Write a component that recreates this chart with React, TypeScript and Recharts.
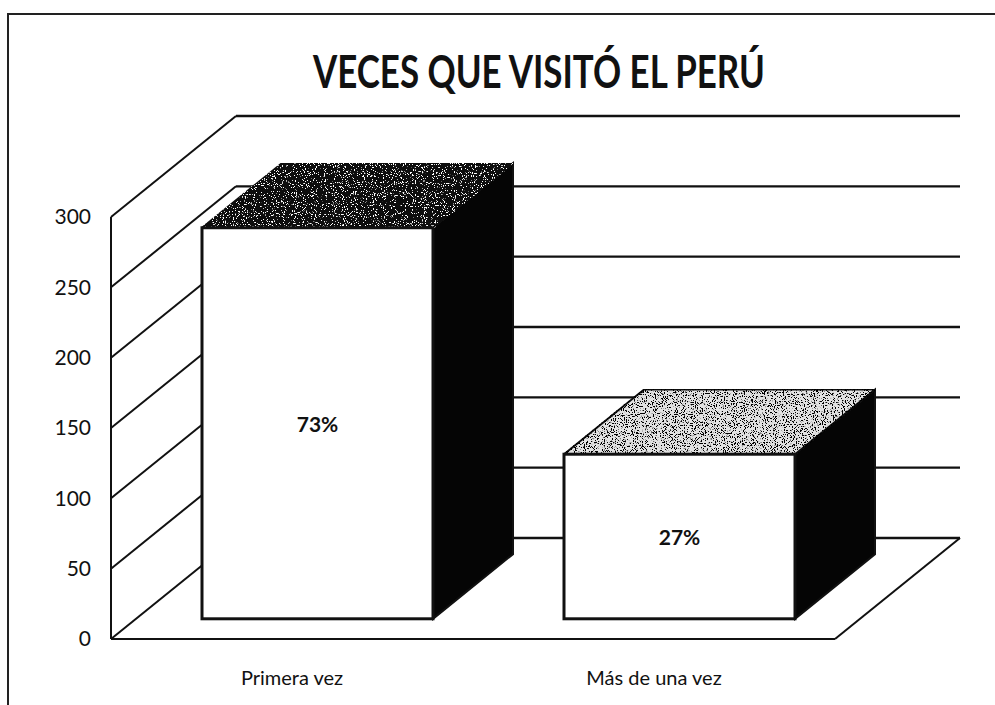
import { BarChart, Bar, XAxis, YAxis, CartesianGrid } from "recharts"

// data
const categories = ["Primera vez", "Más de una vez"]
const visitas = [278, 117]
const porcentajes = ["73%", "27%"]
const yTicks = [0, 50, 100, 150, 200, 250, 300]

const data = categories.map((name, i) => ({
  name,
  visitas: visitas[i],
  pct: porcentajes[i],
}))

// fake 3D: how far the back wall sits from the front plane
const DX = 125
const DY = -101
const FRONT = 0.2 // bar front face depth (fraction of the floor)
const BACK = 0.84 // bar back face depth

const W = 995
const H = 705
const MARGIN = { top: 217, right: 160, bottom: 26, left: 51 }
const X_AXIS_H = 40
const PLOT_BOTTOM = H - MARGIN.bottom - X_AXIS_H

const font = "Lato, 'Open Sans', sans-serif"
const ink = "#111"

// each horizontal grid line becomes: side wall diagonal + back wall line
const wallLine = (props: any) => {
  const { x1, y1, x2, index } = props
  const bx = x1 + DX
  const by = y1 + DY
  const isFloor = Math.abs(y1 - PLOT_BOTTOM) < 1
  return (
    <g key={`wall-${index}`}>
      <line x1={x1} y1={y1} x2={bx} y2={by} stroke={ink} strokeWidth={2} />
      <line x1={bx} y1={by} x2={x2 + DX} y2={by} stroke={ink} strokeWidth={2.4} />
      {isFloor && (
        <line x1={x2} y1={y1} x2={x2 + DX} y2={by} stroke={ink} strokeWidth={2} />
      )}
    </g>
  )
}

const topLook = [
  { base: "#101010", dot: 1, thr: 0.62 }, // dark top, white grain
  { base: "#e2e2e2", dot: 0, thr: 0.55 }, // light top, black grain
]

const renderBox = (props: any) => {
  const { x, y, width, height, index, payload } = props
  if (height <= 0) return <g />
  const fx = x + DX * FRONT
  const fy = y + DY * FRONT
  const bx = DX * (BACK - FRONT)
  const by = DY * (BACK - FRONT)
  const look = topLook[index % topLook.length]
  const k = 18
  const pts = (a: number[][]) => a.map((p) => p.join(",")).join(" ")
  const top = [
    [fx, fy],
    [fx + width, fy],
    [fx + width + bx, fy + by],
    [fx + bx, fy + by],
  ]
  const side = [
    [fx + width, fy],
    [fx + width + bx, fy + by],
    [fx + width + bx, fy + height + by],
    [fx + width, fy + height],
  ]
  const fid = `grain-${index}`
  return (
    <g>
      <defs>
        <filter id={fid} x="0" y="0" width="100%" height="100%">
          <feTurbulence type="fractalNoise" baseFrequency="0.9" numOctaves={2} seed={index + 3} result="noise" />
          <feColorMatrix
            in="noise"
            type="matrix"
            values={`0 0 0 0 ${look.dot} 0 0 0 0 ${look.dot} 0 0 0 0 ${look.dot} ${k} 0 0 0 ${-k * look.thr}`}
            result="dots"
          />
          <feComposite in="dots" in2="SourceAlpha" operator="in" result="clipped" />
          <feMerge>
            <feMergeNode in="SourceGraphic" />
            <feMergeNode in="clipped" />
          </feMerge>
        </filter>
      </defs>
      <polygon points={pts(side)} fill="#050505" stroke={ink} strokeWidth={2} />
      <polygon points={pts(top)} fill={look.base} stroke={ink} strokeWidth={2} filter={`url(#${fid})`} />
      <rect x={fx} y={fy} width={width} height={height} fill="#fff" stroke={ink} strokeWidth={3} />
      <text
        x={fx + width / 2}
        y={fy + height / 2}
        textAnchor="middle"
        dominantBaseline="central"
        fontFamily={font}
        fontWeight={700}
        fontSize={21}
        fill={ink}
      >
        {payload.pct}
      </text>
    </g>
  )
}

export default function App() {
  return (
    <div style={{ position: "absolute", left: 0, top: 0, width: W, height: H, background: "#fff" }}>
      <BarChart width={W} height={H} data={data} margin={MARGIN}>
        <CartesianGrid vertical={false} horizontal={wallLine} />
        <XAxis
          dataKey="name"
          height={X_AXIS_H}
          tickLine={false}
          axisLine={{ stroke: ink, strokeWidth: 2 }}
          tickMargin={26}
          tick={{ fill: ink, fontSize: 20, fontFamily: font }}
        />
        <YAxis
          width={60}
          domain={[0, 300]}
          ticks={yTicks}
          interval={0}
          tickLine={false}
          axisLine={{ stroke: ink, strokeWidth: 2 }}
          tickMargin={14}
          tick={{ fill: ink, fontSize: 21, fontFamily: font }}
        />
        <Bar dataKey="visitas" barSize={231} isAnimationActive={false} shape={renderBox} />
      </BarChart>

      {/* frame + title */}
      <svg
        width={W}
        height={H}
        style={{ position: "absolute", left: 0, top: 0, pointerEvents: "none" }}
      >
        <line x1={7} y1={14} x2={W} y2={14} stroke="#222" strokeWidth={2} />
        <line x1={8} y1={13} x2={8} y2={H} stroke="#222" strokeWidth={2} />
        <text
          x={539}
          y={88}
          textAnchor="middle"
          fontFamily={font}
          fontWeight={700}
          fontSize={45}
          textLength={452}
          lengthAdjust="spacingAndGlyphs"
          fill={ink}
        >
          VECES QUE VISITÓ EL PERÚ
        </text>
      </svg>
    </div>
  )
}
